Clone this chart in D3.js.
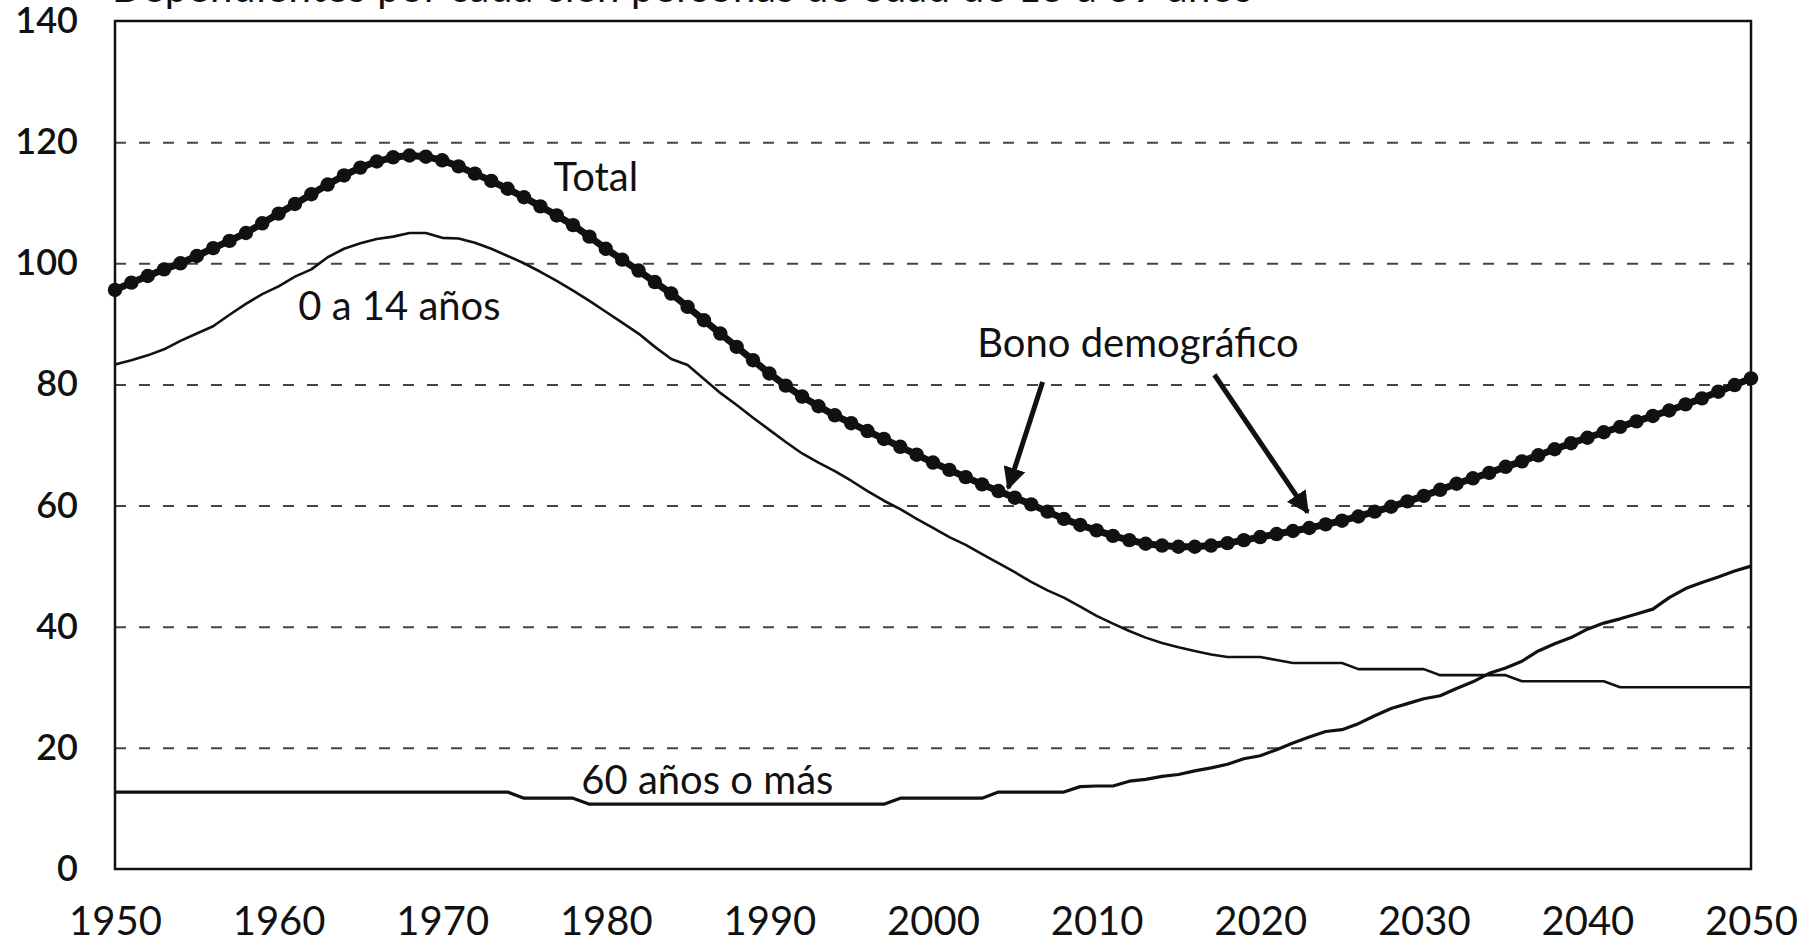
<!DOCTYPE html>
<html>
<head>
<meta charset="utf-8">
<script src="https://cdn.jsdelivr.net/npm/d3@7"></script>
<style>
  body { margin: 0; background: #fff; }
  svg text { font-family: Lato, "Open Sans", sans-serif; fill: #111; }
</style>
</head>
<body>
<div id="chart"></div>
<script>
// dependency ratios, annual 1950-2050 (per 100 people aged 15-59)
const years = d3.range(1950, 2051);
const xTicks = d3.range(1950, 2051, 10);
const yTicks = [0, 20, 40, 60, 80, 100, 120, 140];

const total = [
  95.6, 96.8, 97.9, 99.0, 100.0, 101.2, 102.5, 103.7, 105.0, 106.6,
  108.2, 109.8, 111.4, 113.0, 114.5, 115.8, 116.8, 117.5, 117.8, 117.6,
  117.0, 116.0, 114.8, 113.6, 112.3, 110.9, 109.4, 107.9, 106.3, 104.4,
  102.4, 100.6, 98.8, 96.9, 95.0, 92.8, 90.6, 88.4, 86.2, 84.0,
  81.8, 79.8, 78.0, 76.4, 74.9, 73.6, 72.3, 71.0, 69.7, 68.4,
  67.1, 65.9, 64.7, 63.5, 62.4, 61.3, 60.2, 59.0, 57.8, 56.8,
  55.9, 55.0, 54.3, 53.7, 53.4, 53.2, 53.2, 53.4, 53.8, 54.3,
  54.8, 55.3, 55.8, 56.3, 56.9, 57.5, 58.2, 59.0, 59.8, 60.7,
  61.6, 62.6, 63.6, 64.5, 65.4, 66.4, 67.3, 68.3, 69.3, 70.3,
  71.2, 72.1, 73.0, 73.9, 74.8, 75.7, 76.7, 77.7, 78.8, 79.9,
  81.0
];

const age0to14 = [
  83.3, 84.0, 84.8, 85.8, 87.2, 88.4, 89.6, 91.5, 93.3, 94.9,
  96.2, 97.8, 99.0, 101.0, 102.4, 103.3, 104.0, 104.4, 105.0, 105.0,
  104.2, 104.1, 103.4, 102.4, 101.2, 100.0, 98.6, 97.1, 95.5, 93.8,
  92.0, 90.2, 88.4, 86.2, 84.2, 83.2, 80.9, 78.6, 76.6, 74.5,
  72.5, 70.5, 68.6, 67.1, 65.7, 64.1, 62.4, 60.8, 59.4, 57.8,
  56.3, 54.8, 53.5, 52.0, 50.5, 49.0, 47.4, 46.0, 44.8, 43.3,
  41.8, 40.5, 39.3, 38.2, 37.3, 36.6, 36.0, 35.4, 35.0, 35.0,
  35.0, 34.5, 34.0, 34.0, 34.0, 34.0, 33.0, 33.0, 33.0, 33.0,
  33.0, 32.0, 32.0, 32.0, 32.0, 32.0, 31.0, 31.0, 31.0, 31.0,
  31.0, 31.0, 30.0, 30.0, 30.0, 30.0, 30.0, 30.0, 30.0, 30.0,
  30.0
];

const age60plus = [
  12.7, 12.7, 12.7, 12.7, 12.7, 12.7, 12.7, 12.7, 12.7, 12.7,
  12.7, 12.7, 12.7, 12.7, 12.7, 12.7, 12.7, 12.7, 12.7, 12.7,
  12.7, 12.7, 12.7, 12.7, 12.7, 11.7, 11.7, 11.7, 11.7, 10.7,
  10.7, 10.7, 10.7, 10.7, 10.7, 10.7, 10.7, 10.7, 10.7, 10.7,
  10.7, 10.7, 10.7, 10.7, 10.7, 10.7, 10.7, 10.7, 11.7, 11.7,
  11.7, 11.7, 11.7, 11.7, 12.7, 12.7, 12.7, 12.7, 12.7, 13.6,
  13.7, 13.7, 14.5, 14.8, 15.3, 15.6, 16.2, 16.7, 17.3, 18.2,
  18.7, 19.7, 20.8, 21.8, 22.7, 23.0, 24.0, 25.3, 26.5, 27.3,
  28.1, 28.6, 29.8, 30.9, 32.3, 33.2, 34.3, 36.0, 37.2, 38.2,
  39.6, 40.6, 41.3, 42.1, 42.9, 44.8, 46.3, 47.3, 48.2, 49.2,
  50.0
];

// text labels, placed in data units [year, value]
const labels = [
  { text: "Total", at: [1976.8, 111.9] },
  { text: "0 a 14 años", at: [1961.2, 90.6] },
  { text: "Bono demográfico", at: [2002.7, 84.5] },
  { text: "60 años o más", at: [1978.5, 12.4] }
];
// arrows from label to total curve: [from, to]
const arrows = [
  [[2006.7, 80.4], [2004.6, 62.9]],
  [[2017.2, 81.6], [2022.9, 58.9]]
];
const title = "Dependientes por cada cien personas de edad de 15 a 59 años";

const W = 1801, H = 937;
const margin = { top: 21, right: 50, bottom: 68, left: 115 };

const svg = d3.select("#chart").append("svg")
  .attr("width", W).attr("height", H)
  .style("display", "block");

svg.append("rect").attr("width", W).attr("height", H).attr("fill", "#fff");

const x = d3.scaleLinear().domain([1950, 2050]).range([margin.left, W - margin.right]);
const y = d3.scaleLinear().domain([0, 140]).range([H - margin.bottom, margin.top]);

// heading, cut off by the top edge of the scan
svg.append("text")
  .attr("x", 112).attr("y", 2)
  .attr("textLength", 1140).attr("lengthAdjust", "spacing")
  .style("font-size", "40px")
  .text(title);

// dashed gridlines
svg.append("g")
  .attr("transform", `translate(${margin.left},0)`)
  .call(d3.axisLeft(y).tickValues(yTicks.filter(d => d > 0 && d < 140))
    .tickSize(-(W - margin.left - margin.right)).tickFormat(""))
  .call(g => g.select(".domain").remove())
  .call(g => g.selectAll("line")
    .attr("stroke", "#444").attr("stroke-width", 2)
    .attr("stroke-dasharray", "11,13"));

// y labels
svg.append("g")
  .attr("transform", `translate(${margin.left},0)`)
  .call(d3.axisLeft(y).tickValues(yTicks).tickSize(0).tickPadding(37))
  .call(g => g.select(".domain").remove())
  .call(g => g.selectAll("text")
    .style("font-size", "36px").style("font-weight", "600"));

// x labels
svg.append("g")
  .attr("transform", `translate(0,${H - margin.bottom})`)
  .call(d3.axisBottom(x).tickValues(xTicks).tickSize(0).tickFormat(d3.format("d")))
  .call(g => g.select(".domain").remove())
  .call(g => g.selectAll("text")
    .attr("y", 66).attr("dy", 0)
    .style("font-size", "40px"));

// frame
svg.append("rect")
  .attr("x", x(1950)).attr("y", y(140))
  .attr("width", x(2050) - x(1950)).attr("height", y(0) - y(140))
  .attr("fill", "none").attr("stroke", "#111").attr("stroke-width", 2.5);

const line = d3.line().x((d, i) => x(years[i])).y(d => y(d));

svg.append("path").datum(age0to14)
  .attr("d", line).attr("fill", "none")
  .attr("stroke", "#111").attr("stroke-width", 2.6).attr("stroke-linejoin", "round");

svg.append("path").datum(age60plus)
  .attr("d", line).attr("fill", "none")
  .attr("stroke", "#111").attr("stroke-width", 3.2).attr("stroke-linejoin", "round");

svg.append("path").datum(total)
  .attr("d", line).attr("fill", "none")
  .attr("stroke", "#111").attr("stroke-width", 7).attr("stroke-linejoin", "round");

svg.append("g").selectAll("circle")
  .data(total).join("circle")
  .attr("cx", (d, i) => x(years[i]))
  .attr("cy", d => y(d))
  .attr("r", 7.2)
  .attr("fill", "#111");

// annotations
svg.append("g").selectAll("text")
  .data(labels).join("text")
  .attr("x", d => x(d.at[0])).attr("y", d => y(d.at[1]))
  .style("font-size", "40px")
  .text(d => d.text);

svg.append("defs").append("marker")
  .attr("id", "head").attr("viewBox", "0 0 10 10")
  .attr("refX", 9).attr("refY", 5)
  .attr("markerWidth", 4.5).attr("markerHeight", 4.5)
  .attr("markerUnits", "strokeWidth")
  .attr("orient", "auto")
  .append("path").attr("d", "M0,0L10,5L0,10Z").attr("fill", "#111");

svg.append("g").selectAll("line")
  .data(arrows).join("line")
  .attr("x1", d => x(d[0][0])).attr("y1", d => y(d[0][1]))
  .attr("x2", d => x(d[1][0])).attr("y2", d => y(d[1][1]))
  .attr("stroke", "#111").attr("stroke-width", 5)
  .attr("marker-end", "url(#head)");
</script>
</body>
</html>
